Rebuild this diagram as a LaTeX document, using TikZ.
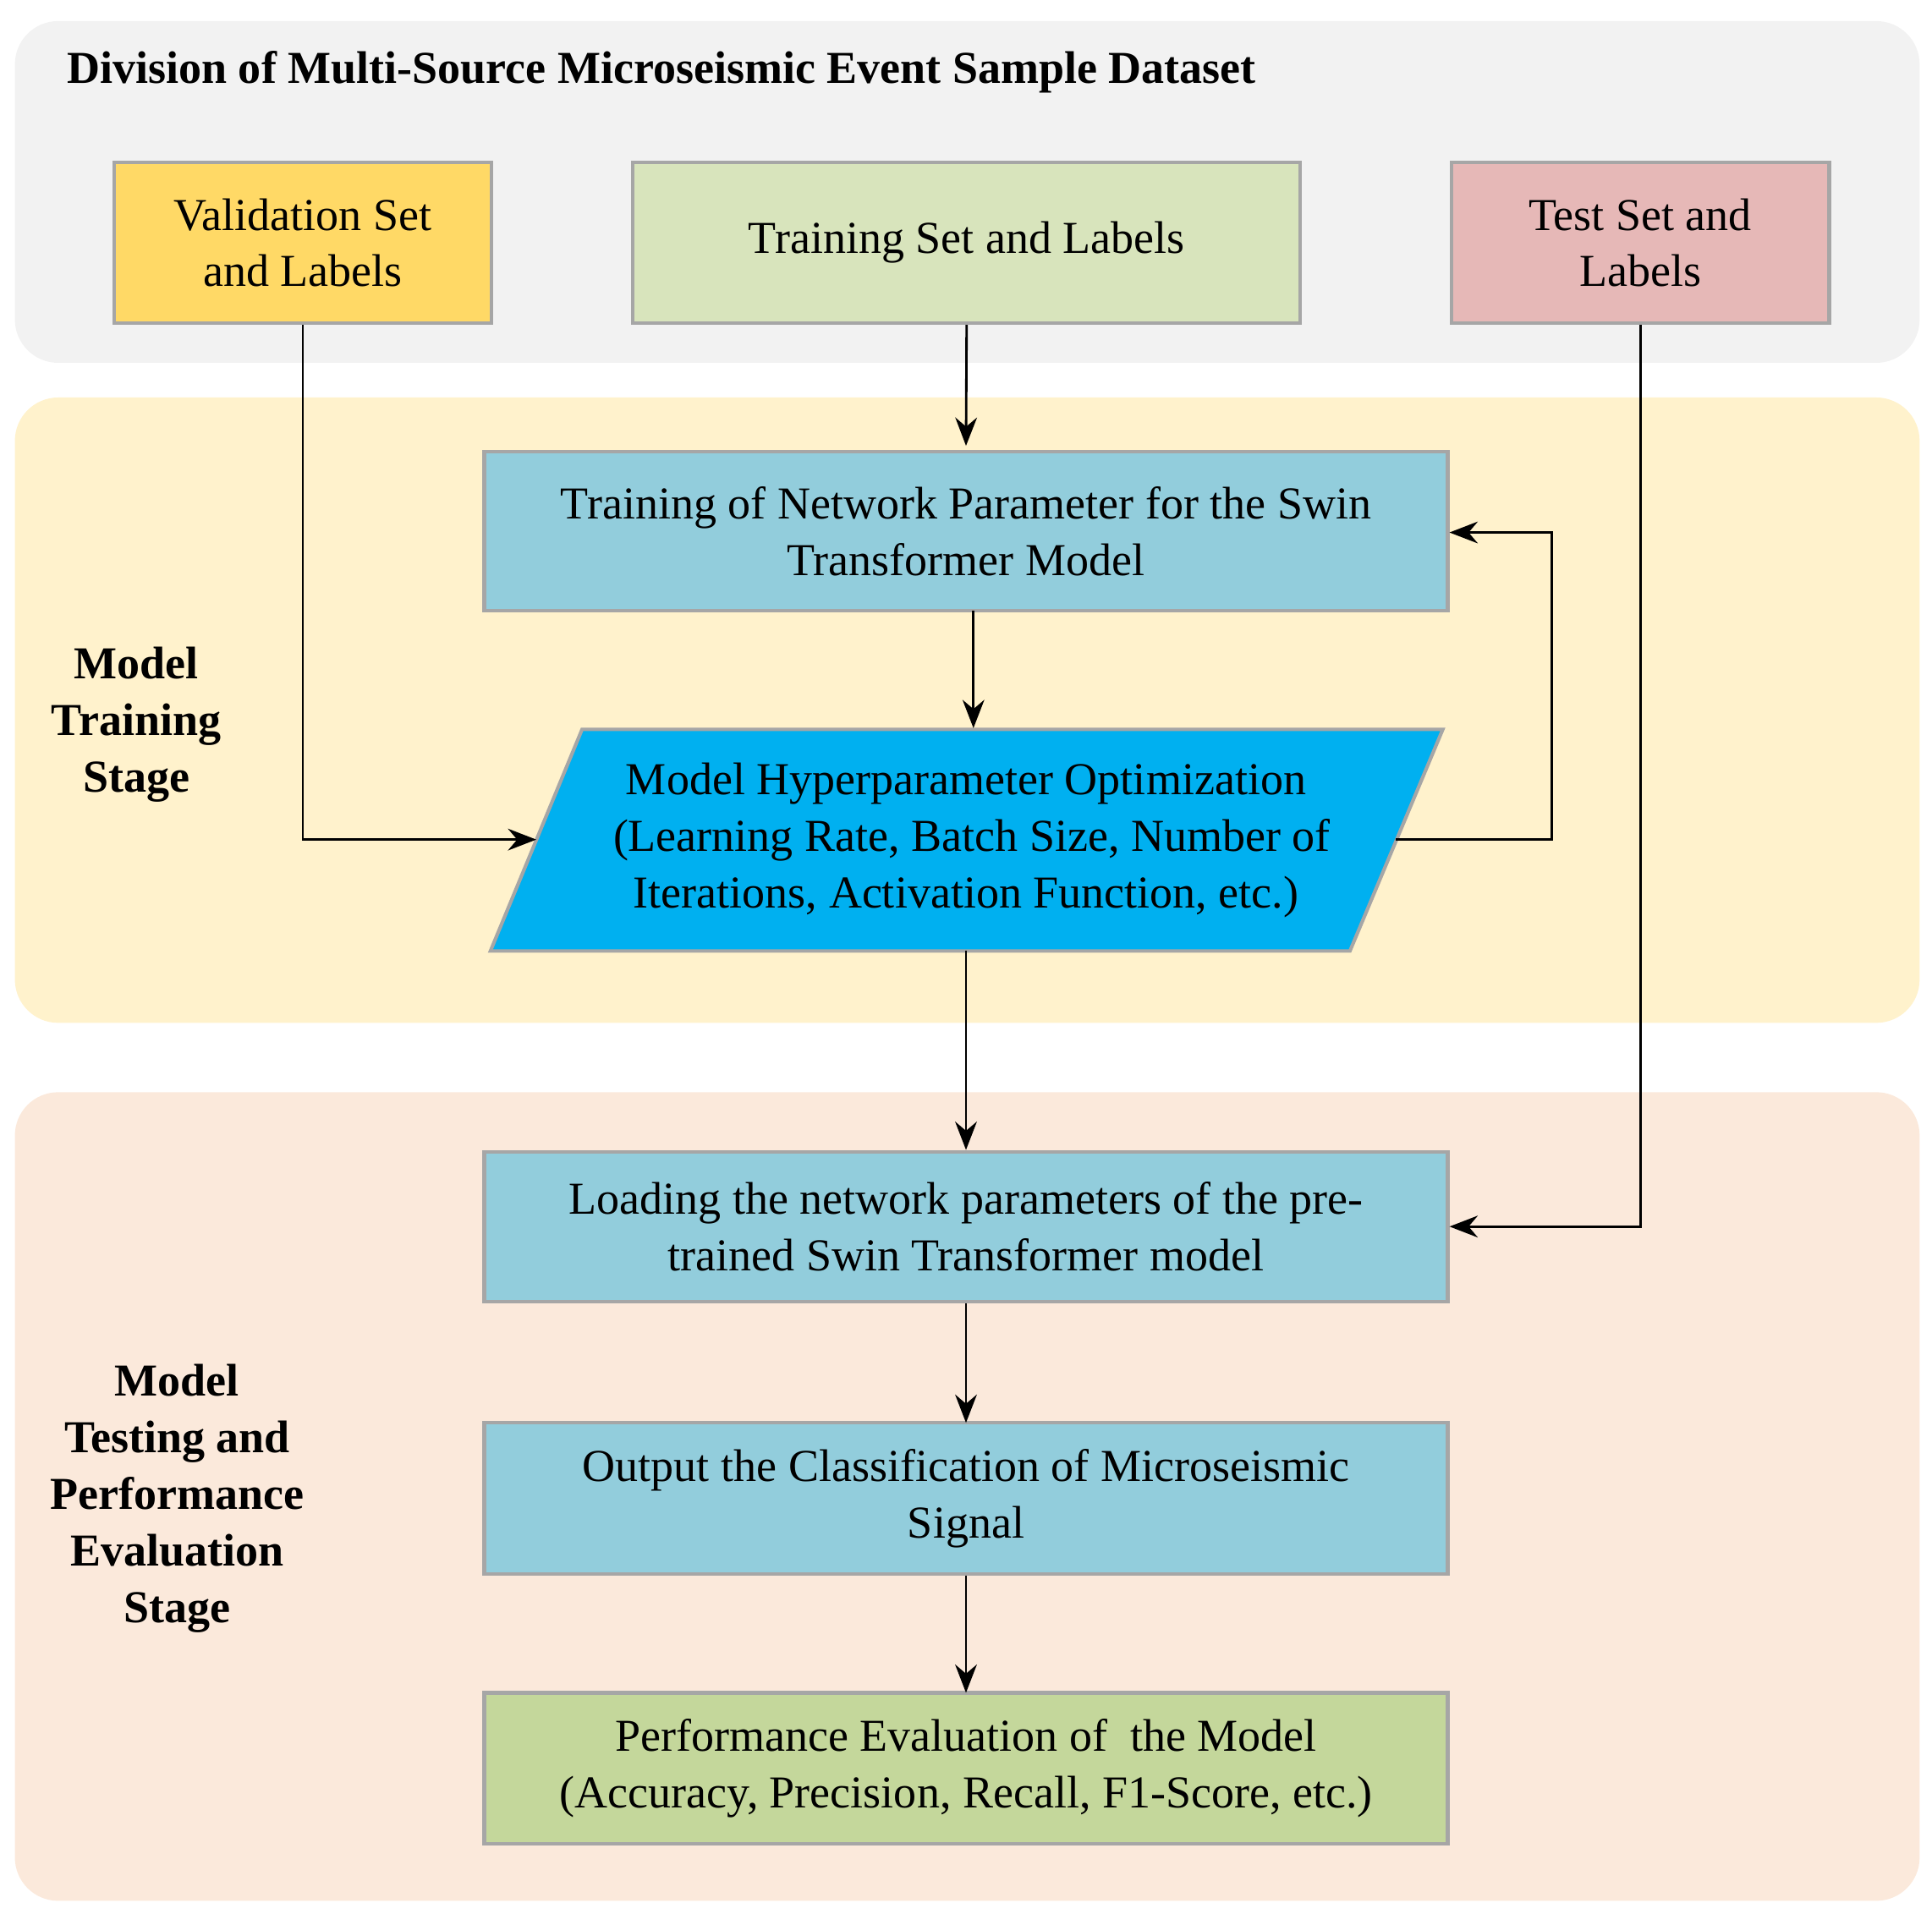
\documentclass[tikz,border=0pt]{standalone}
\usepackage{fontspec}
\setmainfont{Liberation Serif}
\usetikzlibrary{arrows.meta}
\definecolor{bggray}{HTML}{F2F2F2}
\definecolor{bgyel}{HTML}{FFF2CC}
\definecolor{bgpeach}{HTML}{FBE9DB}
\definecolor{cval}{HTML}{FFD966}
\definecolor{ctrain}{HTML}{D8E4BC}
\definecolor{ctest}{HTML}{E6B8B7}
\definecolor{cblue}{HTML}{92CDDC}
\definecolor{ccyan}{HTML}{00B0F0}
\definecolor{cgreen}{HTML}{C4D79B}
\definecolor{cbord}{HTML}{A6A6A6}
\begin{document}
\begin{tikzpicture}[x=0.02cm,y=-0.02cm,
  bg/.style={rounded corners=0.7cm},
  box/.style={draw=cbord,line width=1.6pt,align=center,inner sep=0pt,font=\fontsize{21}{26}\selectfont},
  lab/.style={align=center,font=\fontsize{21}{26}\selectfont\bfseries},
  arr/.style={line width=1.1pt,-{Stealth[length=13pt,width=10pt]}}]
\useasboundingbox (0,0) rectangle (1560,1545);
\fill[bggray,bg] (12,17) rectangle (1550,293);
\fill[bgyel,bg] (12,321) rectangle (1550,826);
\fill[bgpeach,bg] (12,882) rectangle (1550,1535);
\node[lab,anchor=west] (title) at (48,58) {Division of Multi-Source Microseismic Event Sample Dataset};
\node[lab] (ltrain) at (110,585) {Model\\Training\\Stage};
\node[lab] (ltest) at (143,1210) {Model\\Testing and\\Performance\\Evaluation\\Stage};
\node[box,fill=cval,minimum width=305*0.02cm,minimum height=130*0.02cm] (val) at (244.5,196) {Validation Set\\and Labels};
\node[box,fill=ctrain,minimum width=539*0.02cm,minimum height=130*0.02cm] (tr) at (780.5,196) {Training Set and Labels};
\node[box,fill=ctest,minimum width=305*0.02cm,minimum height=130*0.02cm] (te) at (1324.5,196) {Test Set and\\Labels};
\node[box,fill=cblue,minimum width=778*0.02cm,minimum height=128*0.02cm] (net) at (780,429) {Training of Network Parameter for the Swin\\Transformer Model};
\filldraw[fill=ccyan,draw=cbord,line width=1.6pt] (396,768) -- (470,589) -- (1165,589) -- (1090,768) -- cycle;
\node[box,draw=none,minimum width=700*0.02cm,minimum height=179*0.02cm] (hp) at (780,678.5) {Model Hyperparameter Optimization\\\ (Learning Rate, Batch Size, Number of\\Iterations, Activation Function, etc.)};
\node[box,fill=cblue,minimum width=778*0.02cm,minimum height=121*0.02cm] (load) at (780,990.5) {Loading the network parameters of the pre-\\trained Swin Transformer model};
\node[box,fill=cblue,minimum width=778*0.02cm,minimum height=122*0.02cm] (out) at (780,1210) {Output the Classification of Microseismic\\Signal};
\node[box,fill=cgreen,minimum width=778*0.02cm,minimum height=122*0.02cm] (perf) at (780,1428) {Performance Evaluation of\ \ the Model\\(Accuracy, Precision, Recall, F1-Score, etc.)};
\coordinate (hpl) at (433,678);
\coordinate (hpr) at (1127,678);
\draw[arr] (tr.south) -- (780,360);
\draw[arr] (786,493) -- (786,588);
\draw[arr] (780,768) -- (load.north);
\draw[arr] (load.south) -- (780,1149);
\draw[arr] (out.south) -- (780,1367);
\draw[arr] (val.south) |- (hpl);
\draw[arr] (hpr) -- (1253,678) |- (net.east |- 0,430);
\draw[arr] (te.south) |- (load.east);
\end{tikzpicture}
\end{document}
